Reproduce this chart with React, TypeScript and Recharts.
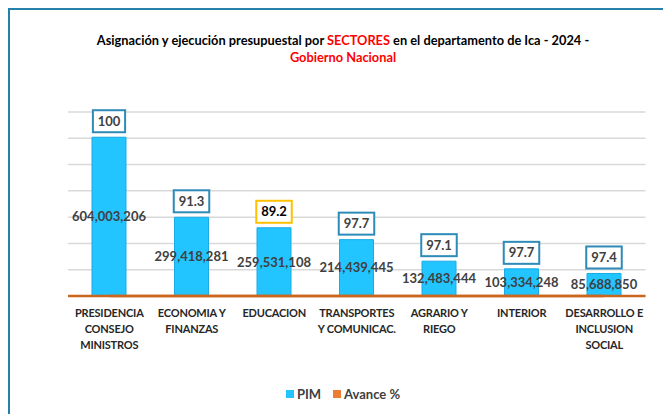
import { Bar, CartesianGrid, ComposedChart, LabelList, Line, XAxis, YAxis } from 'recharts';

const sectores = [
  'PRESIDENCIA\nCONSEJO\nMINISTROS',
  'ECONOMIA Y\nFINANZAS',
  'EDUCACION',
  'TRANSPORTES\nY COMUNICAC.',
  'AGRARIO Y\nRIEGO',
  'INTERIOR',
  'DESARROLLO E\nINCLUSION\nSOCIAL',
];
const pim = [604003206, 299418281, 259531108, 214439445, 132483444, 103334248, 85688850];
const avance = [100, 91.3, 89.2, 97.7, 97.1, 97.7, 97.4];
const yTicks = [0, 100000000, 200000000, 300000000, 400000000, 500000000, 600000000, 700000000];

const FONT = 'Lato, "Open Sans", sans-serif';
const CYAN = '#22C5FF';
const ORANGE = '#ED7D31';
const AXIS_ORANGE = '#CB661F';

const data = sectores.map((sector, i) => ({ sector, pim: pim[i], avance: avance[i] }));

function SectorTick({ x, y, payload }: any) {
  const lines = String(payload.value).split('\n');
  return (
    <g>
      {lines.map((t, i) => (
        <text key={i} x={x} y={y + 21 + i * 16} textAnchor="middle" fontSize={11} letterSpacing={-0.2} fontWeight={700} fill="#262626" fontFamily={FONT}>
          {t}
        </text>
      ))}
    </g>
  );
}

function AvanceBox({ x, y, width, index }: any) {
  const v = avance[index];
  const label = String(v);
  const digits = label.replace('.', '').length;
  const w = digits * 7.4 + (label.includes('.') ? 3.3 : 0) + 10;
  const h = 22;
  const cx = x + width / 2;
  const low = v < 90;
  return (
    <g>
      <rect x={cx - w / 2} y={y - 5 - h} width={w} height={h} fill="#fff" stroke={low ? '#FFC000' : '#2E8BB8'} strokeWidth={2} />
      <text x={cx} y={y - 5 - h / 2 + 4.5} textAnchor="middle" fontSize={13} fontWeight={700} fill={low ? '#000' : '#404040'} fontFamily={FONT}>
        {label}
      </text>
    </g>
  );
}

export default function App() {
  return (
    <div style={{ position: 'relative', width: 663, height: 406, overflow: 'hidden', fontFamily: FONT }}>
      <div style={{ position: 'absolute', left: 0, top: 0, width: 720, height: 460, border: '2px solid #2381AA', boxSizing: 'border-box' }} />
      <div style={{ position: 'absolute', left: 0, top: 24, width: 670, textAlign: 'center', fontSize: 12.8, fontWeight: 700, lineHeight: '17px', color: '#000' }}>
        Asignación y ejecución presupuestal por <span style={{ color: '#FF0000' }}>SECTORES</span> en el departamento de Ica - 2024 -
        <br />
        <span style={{ color: '#FF0000' }}>Gobierno Nacional</span>
      </div>
      <div style={{ position: 'absolute', left: 0, top: 0 }}>
        <ComposedChart width={663} height={406} data={data} margin={{ top: 104, right: 25.5, left: 60, bottom: 58 }}>
          <CartesianGrid horizontal vertical={false} stroke="#D9D9D9" strokeWidth={1.5} />
          <YAxis hide domain={[0, 700000000]} ticks={yTicks} />
          <XAxis
            dataKey="sector"
            interval={0}
            height={60}
            tickLine={false}
            tickSize={0}
            tickMargin={0}
            axisLine={{ stroke: AXIS_ORANGE, strokeWidth: 2.5 }}
            tick={<SectorTick />}
          />
          <Bar dataKey="pim" name="PIM" fill={CYAN} stroke="#1AAAE6" strokeWidth={1} barSize={34} isAnimationActive={false}>
            <LabelList
              dataKey="pim"
              position="center"
              formatter={(v: any) => Number(v).toLocaleString('en-US')}
              fill="#404040"
              fontSize={13}
              fontWeight={700}
              fontFamily={FONT}
            />
            <LabelList dataKey="avance" content={<AvanceBox />} />
          </Bar>
          <Line dataKey="avance" name="Avance %" stroke={AXIS_ORANGE} strokeWidth={2.5} dot={false} isAnimationActive={false} />
        </ComposedChart>
      </div>
      <div style={{ position: 'absolute', left: 0, top: 378, width: 670, display: 'flex', justifyContent: 'center', gap: 12, fontSize: 13, fontWeight: 700, color: '#404040' }}>
        <span style={{ display: 'flex', alignItems: 'center', gap: 3 }}>
          <span style={{ width: 8, height: 8, background: CYAN, display: 'inline-block' }} />
          PIM
        </span>
        <span style={{ display: 'flex', alignItems: 'center', gap: 3 }}>
          <span style={{ width: 8, height: 8, background: ORANGE, display: 'inline-block' }} />
          Avance %
        </span>
      </div>
    </div>
  );
}
